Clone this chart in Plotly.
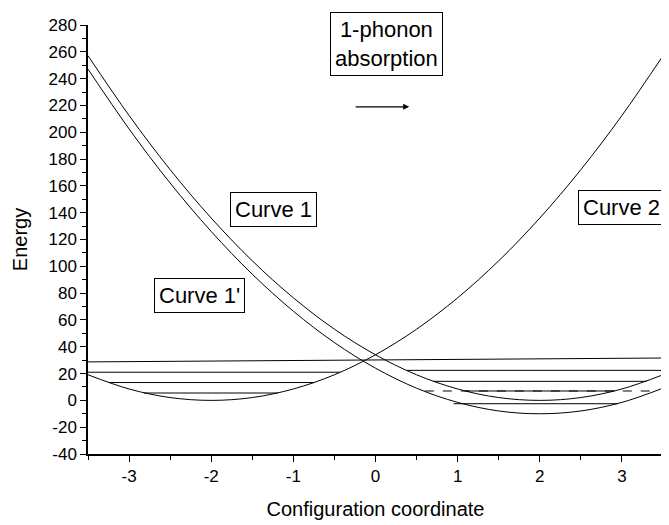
import plotly.graph_objects as go

# Sampled configuration coordinates
x_samples = [-3.5, -3.0, -2.5, -2.0, -1.5, -1.0, -0.5, 0.0, 0.5, 1.0, 1.5, 2.0, 2.5, 3.0, 3.5]

# Curve 1' / Curve 2 (well centred at -2)
curve_left = [19.1, 8.5, 2.1, 0.0, 2.1, 8.5, 19.1, 34.0, 53.1, 76.5, 104.1, 136.0, 172.1, 212.5, 257.1]
# Curve 1 (well centred at 2, upper)
curve_right_upper = [257.1, 212.5, 172.1, 136.0, 104.1, 76.5, 53.1, 34.0, 19.1, 8.5, 2.1, 0.0, 2.1, 8.5, 19.1]
# Curve 1 (well centred at 2, lower)
curve_right_lower = [247.1, 202.5, 162.1, 126.0, 94.1, 66.5, 43.1, 24.0, 9.1, -1.5, -7.9, -10.0, -7.9, -1.5, 9.1]

# Vibrational levels: (energy at start, energy at end, x start, x end)
level_e0 = [28.7, 5.5, 13.3, 21.0, 22.4, 14.2, 7.0, -2.5]
level_e1 = [31.6, 5.5, 13.3, 21.0, 22.4, 14.2, 7.0, -2.5]
level_x0 = [-3.5, -2.82, -3.25, -3.5, 0.38, 0.70, 1.09, 0.95]
level_x1 = [3.5, -1.19, -0.75, -0.43, 3.5, 3.30, 2.91, 2.95]

# Dashed level of the lower curve
dash_e = [7.0, 7.0]
dash_x = [0.6, 3.4]

# Labels
label_text = ["1-phonon<br>absorption", "Curve 1", "Curve 1'", "Curve 2"]
label_x = [0.13, -1.24, -2.14, 3.0]
label_y = [266, 142.5, 78, 144]

# Arrow
arrow_x = [-0.26, 0.41]
arrow_y = [219, 219]

# Tick labels
x_tickvals = [-3, -2, -1, 0, 1, 2, 3]
x_ticktext = ["-3", "-2", "-1", "0", "1", "2", "3"]
y_tickvals = [-40, -20, 0, 20, 40, 60, 80, 100, 120, 140, 160, 180, 200, 220, 240, 260, 280]
y_ticktext = ["-40", "-20", "0", "20", "40", "60", "80", "100", "120", "140", "160",
              "180", "200", "220", "240", "260", "280"]

FONT = "Liberation Sans, Arial"

fig = go.Figure()
line_style = dict(color="black", width=1)
for ys in (curve_left, curve_right_upper, curve_right_lower):
    fig.add_trace(go.Scatter(x=x_samples, y=ys, mode="lines",
                             line=dict(color="black", width=1, shape="spline", smoothing=1.0),
                             showlegend=False, hoverinfo="skip"))

for e0, e1, x0, x1 in zip(level_e0, level_e1, level_x0, level_x1):
    fig.add_trace(go.Scatter(x=[x0, x1], y=[e0, e1], mode="lines", line=line_style,
                             showlegend=False, hoverinfo="skip"))

fig.add_trace(go.Scatter(x=dash_x, y=dash_e, mode="lines",
                         line=dict(color="black", width=1, dash="dash"),
                         showlegend=False, hoverinfo="skip"))

for t, lx, ly in zip(label_text, label_x, label_y):
    fig.add_annotation(x=lx, y=ly, xref="x", yref="y", text=t, showarrow=False,
                       font=dict(family=FONT, size=22, color="black"),
                       bordercolor="black", borderwidth=1, borderpad=4,
                       bgcolor="white")

fig.add_annotation(x=arrow_x[1], y=arrow_y[1], ax=arrow_x[0], ay=arrow_y[0],
                   xref="x", yref="y", axref="x", ayref="y", text="",
                   showarrow=True, arrowhead=2, arrowsize=1, arrowwidth=1.2,
                   arrowcolor="black")

axis_font = dict(family=FONT, size=17, color="black")
fig.update_xaxes(range=[-3.5, 3.5], tickvals=x_tickvals, ticktext=x_ticktext,
                 showline=True, linecolor="black",
                 linewidth=1.5, ticks="outside", ticklen=6, tickwidth=1.2, tickcolor="black",
                 showgrid=False, zeroline=False, tickfont=axis_font,
                 minor=dict(dtick=0.5, tick0=0, ticks="outside", ticklen=4, tickwidth=1.2,
                            tickcolor="black", showgrid=False),
                 title=dict(text="Configuration coordinate",
                            font=dict(family=FONT, size=20, color="black"),
                            standoff=17))
fig.update_yaxes(range=[-40, 280], tickvals=y_tickvals, ticktext=y_ticktext,
                 showline=True, linecolor="black",
                 linewidth=1.5, ticks="outside", ticklen=6, tickwidth=1.2, tickcolor="black",
                 showgrid=False, zeroline=False, tickfont=axis_font,
                 minor=dict(dtick=10, tick0=0, ticks="outside", ticklen=4, tickwidth=1.2,
                            tickcolor="black", showgrid=False),
                 title=dict(text="Energy",
                            font=dict(family=FONT, size=20, color="black"),
                            standoff=15))

fig.update_layout(width=661, height=517, margin=dict(l=80, r=6, t=17, b=71),
                  plot_bgcolor="white", paper_bgcolor="white", showlegend=False)

fig.write_html("out.html")
